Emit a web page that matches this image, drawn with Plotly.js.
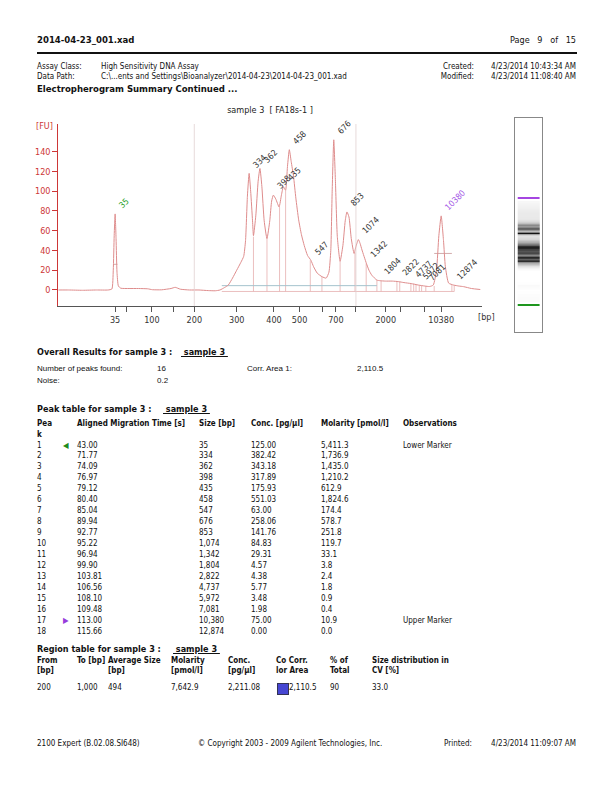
<!DOCTYPE html>
<html>
<head>
<meta charset="utf-8">
<script src="https://cdn.plot.ly/plotly-3.0.1.min.js"></script>
<style>
  html, body { margin:0; padding:0; background:#fff; }
  #page { position:relative; width:612px; height:792px; overflow:hidden; font-family:"DejaVu Sans Condensed","DejaVu Sans",sans-serif; color:#111; }
  .t { position:absolute; white-space:pre; font-size:8px; line-height:10px; }
  .b { font-weight:bold; }
  .arial { font-family:"Liberation Sans",Arial,sans-serif; }
  #chart { position:absolute; left:0; top:100px; width:612px; height:240px; }
</style>
</head>
<body>
<div id="page">
  <div id="chart"></div>
</div>
<script>
// ---------- electropherogram (x = aligned migration time [s], y = FU) ----------
const curveTime = [30.8,33,36,39,41.5,42.3,42.6,42.8,43.0,43.2,43.4,43.7,44.2,46,48,50,51,53,55,55.9,57,59,61,63,64.5,65.5,66.5,67.3,68.2,69.1,70.0,70.6,71.0,71.4,71.77,72.1,72.5,72.7,73.2,73.7,74.09,74.5,75.0,75.6,76.2,76.6,76.97,77.5,78.2,78.7,79.12,79.6,80.0,80.4,80.8,81.3,81.8,82.4,83.0,83.6,84.3,85.04,85.6,86.4,87.4,88.3,88.9,89.3,89.6,89.94,90.3,90.7,91.3,91.9,92.4,92.77,93.2,93.7,94.3,94.7,95.22,95.6,96.0,96.94,97.5,98.1,99.2,99.9,101,102.5,103.81,105,106.56,108.1,109.48,110.5,111.3,112.0,112.5,113.0,113.5,113.9,114.6,115.66,116.8,117.8,119.5,121.4];
const curveFU = [0,0,-0.3,0,0,1,20,55,77,52,18,4,1.8,1.5,1.5,1.2,0.3,0.2,1.5,2.7,0.8,0,0,-0.6,-0.8,0,2.5,5,12,20,28,34,50,95,118,100,70,55,75,110,123,105,70,52,70,90,96,92,84,96,104.5,101,125,142,130,115,93,71,56,45,35,30,23.6,17,13.5,12,18,40,100,152,110,54,29,45,70,79,74,52,37,44,51,47,40.5,27,20,15,10,9.4,9,9,8.5,7.5,6.5,5,4,3.5,5,20,55,75,50,23.6,7,5,4,3.4,1.5,0.5];

// ---------- peaks (peak table) ----------
const peakTimes = [43.00,71.77,74.09,76.97,79.12,80.40,85.04,89.94,92.77,95.22,96.94,99.90,103.81,106.56,108.10,109.48,113.00,115.66];
const peakSizes = [35,334,362,398,435,458,547,676,853,1074,1342,1804,2822,4737,5972,7081,10380,12874];
const peakConc = [125.00,382.42,343.18,317.89,175.93,551.03,63.00,258.06,141.76,84.83,29.31,4.57,4.38,5.77,3.48,1.98,75.00,0.00];
const peakMolarity = [5411.3,1736.9,1435.0,1210.2,612.9,1824.6,174.4,578.7,251.8,119.7,33.1,3.8,2.4,1.8,0.9,0.4,10.9,0.0];
const peakObservations = ["Lower Marker","","","","","","","","","","","","","","","","Upper Marker",""];
const peakHeights = [77,118,123,96,104.5,142,30,152,79,51,27,9.4,8.5,6.5,5,4,75,5];

// peak boundary marks (time, top FU)
const boundTime = [72.7,75.6,78.3,79.6,84.9,87.4,91.3,94.5,96.9,99.2,100.1,103.5,104.1,106.5,107.1,107.6,108.3,108.8,109.7,111.5,115.3,115.8];
const boundTop = [54,52,84,101,30,13.5,29,38,27,10,9.2,8.6,8.5,6.5,6.3,6,5,4.5,4,4,5,5];

// region 200 - 1000 bp (times) and its baseline
const regionTimes = [60.0, 94.7];
const regionBaseTime = [65.9, 99.2];
const regionBaseFU = [4.4, 4.4];

// half-height marks of the markers
const halfTime = [[42.6,43.5],[111.5,115.3]];
const halfFU = [26, 37];

// x-axis ticks (time positions of size ticks)
const tickTimes = [43.0,45.5,50.9,55.5,60.0,69.1,77.1,82.6,87.6,90.4,94.7,101.1,104.3,109.4,113.0];
const tickLabels = ["35","","100","","200","300","400","500","","700","","2000","","","10380"];

// gel markers
const markerTimes = [43.0, 113.0];

// ---------- region table ----------
const regionRow = ["200","1,000","494","7,642.9","2,211.08","2,110.5","90","33.0"];

const FONT = '"DejaVu Sans Condensed","DejaVu Sans",sans-serif';
const RED = 'rgb(205,55,55)';
const CURVE = 'rgb(222,140,140)';

const bx = [], by = [];
boundTime.forEach((t,i)=>{ bx.push(t,t,null); by.push(-1.5,boundTop[i],null); });
const hx = [], hy = [];
halfTime.forEach((p,i)=>{ hx.push(p[0],p[1],null); hy.push(halfFU[i],halfFU[i],null); });

const gelT = [], gelZ = [];
curveTime.forEach((t,i)=>{ if (t >= 46 && t <= 111) { gelT.push(t); gelZ.push([curveFU[i], curveFU[i]]); } });

const traces = [
  {x: bx, y: by, mode:'lines', line:{color:'rgb(230,175,175)', width:0.8}, xaxis:'x', yaxis:'y'},
  {x: [regionBaseTime[0], boundTime[boundTime.length-1]], y:[-1.5,-1.5], mode:'lines', line:{color:'rgb(230,175,175)', width:0.8}},
  {x: regionBaseTime, y: regionBaseFU, mode:'lines', line:{color:'rgb(165,195,205)', width:1}},
  {x: hx, y: hy, mode:'lines', line:{color:'rgb(200,150,150)', width:0.8}},
  {x: curveTime, y: curveFU, mode:'lines', line:{color:CURVE, width:1, shape:'spline', smoothing:0.5}},
  {type:'heatmap', x:[0,1], y:gelT, z:gelZ, xaxis:'x2', yaxis:'y2', zmin:0, zmax:140, zsmooth:'best', showscale:false,
   colorscale:[[0,'rgb(255,255,255)'],[0.12,'rgb(215,215,215)'],[0.45,'rgb(110,110,110)'],[1,'rgb(20,20,20)']]},
  {x:[-0.5,1.5], y:[markerTimes[0],markerTimes[0]], mode:'lines', line:{color:'rgb(30,150,30)', width:2}, xaxis:'x2', yaxis:'y2'},
  {x:[-0.5,1.5], y:[markerTimes[1],markerTimes[1]], mode:'lines', line:{color:'rgb(165,70,225)', width:2}, xaxis:'x2', yaxis:'y2'}
];

const annotations = peakSizes.map((s,i)=>({
  x: peakTimes[i], y: peakHeights[i], xref:'x', yref:'y', text:String(s), showarrow:false,
  textangle:-45, xanchor:'left', yanchor:'bottom', xshift:-1, yshift:1,
  font:{family:FONT, size:8.5, color: i===0 ? 'rgb(40,160,40)' : (i===16 ? 'rgb(165,90,230)' : '#333')}
}));
annotations.push({x:44/612, y:1-26/240, xref:'paper', yref:'paper', xanchor:'center', yanchor:'middle', text:'[FU]', showarrow:false, font:{family:FONT,size:9,color:RED}});
annotations.push({x:486/612, y:1-217/240, xref:'paper', yref:'paper', xanchor:'center', yanchor:'middle', text:'[bp]', showarrow:false, font:{family:FONT,size:9,color:'#333'}});

const shapes = regionTimes.map(t=>({type:'line', xref:'x', yref:'y domain', x0:t, x1:t, y0:0, y1:1, line:{color:'rgb(225,210,210)', width:0.8}}));

const layout = {
  width:612, height:240, margin:{l:0,r:0,t:0,b:0}, showlegend:false,
  paper_bgcolor:'rgba(0,0,0,0)', plot_bgcolor:'rgba(0,0,0,0)',
  title:{text:'sample 3  [ FA18s-1 ]', x:270/612, xanchor:'center', y:1-10/240, yanchor:'middle', font:{family:FONT,size:9,color:'#222'}},
  xaxis:{domain:[58.3/612, 481.7/612], range:[30.8,121.7], showgrid:false, zeroline:false, showline:true, linecolor:'#555', linewidth:1,
         ticks:'outside', ticklen:5, tickcolor:'#555', tickvals:tickTimes, ticktext:tickLabels, tickfont:{family:FONT,size:9,color:'#333'}},
  yaxis:{domain:[1-206/240, 1-24/240], range:[-16.2,168], showgrid:false, zeroline:false, showline:true, linecolor:RED, linewidth:1,
         ticks:'outside', ticklen:5, tickcolor:RED, tickvals:[0,20,40,60,80,100,120,140], tickfont:{family:FONT,size:9,color:RED}},
  xaxis2:{domain:[515/612, 542.3/612], range:[-0.75,1.75], showgrid:false, zeroline:false, showline:true, mirror:true, linecolor:'#888', showticklabels:false, ticks:'', anchor:'y2'},
  yaxis2:{domain:[1-231.7/240, 1-17.7/240], range:[25.5,165.5], showgrid:false, zeroline:false, showline:true, mirror:true, linecolor:'#888', showticklabels:false, ticks:'', anchor:'x2'},
  annotations, shapes
};
Plotly.newPlot('chart', traces, layout, {staticPlot:true, displayModeBar:false});

// ---------- text of the page ----------
const page = document.getElementById('page');
function put(text, x, y, cls, extra) {
  const d = document.createElement('div');
  d.className = 't ' + (cls || '');
  d.textContent = text;
  d.style.left = x + 'px';
  d.style.top = (y - 5) + 'px';
  if (extra) Object.assign(d.style, extra);
  page.appendChild(d);
  return d;
}
function putR(text, right, y, cls, extra) {
  const d = put(text, 0, y, cls, extra);
  d.style.left = 'auto';
  d.style.right = (612 - right) + 'px';
  return d;
}
put('2014-04-23_001.xad', 37, 40, 'b', {fontSize:'9.5px'});
putR('Page   9   of   15', 576, 40, '', {fontSize:'9px'});
const rule = document.createElement('div');
Object.assign(rule.style, {position:'absolute', left:'37px', top:'52px', width:'540px', height:'2px', background:'#111'});
page.appendChild(rule);
put('Assay Class:', 37, 67); put('High Sensitivity DNA Assay', 101, 67);
put('Data Path:', 37, 77); put('C:\\...ents and Settings\\Bioanalyzer\\2014-04-23\\2014-04-23_001.xad', 101, 77);
putR('Created:', 474, 67); putR('4/23/2014 10:43:34 AM', 576, 67);
putR('Modified:', 474, 77); putR('4/23/2014 11:08:40 AM', 576, 77);
put('Electropherogram Summary Continued ...', 37, 89, 'b', {fontSize:'9.5px'});

put('Overall Results for sample 3 :', 37, 352, 'b', {fontSize:'9px'});
put(' sample 3 ', 181, 352, 'b', {fontSize:'9px', textDecoration:'underline'});
put('Number of peaks found:', 37, 369, 'arial');
put('16', 157, 369, 'arial');
put('Corr. Area 1:', 247, 369, 'arial');
put('2,110.5', 357, 369, 'arial');
put('Noise:', 37, 381, 'arial');
put('0.2', 157, 381, 'arial');

put('Peak table for sample 3 :', 37, 409, 'b', {fontSize:'9px'});
put(' sample 3 ', 163, 409, 'b', {fontSize:'9px', textDecoration:'underline'});
const cols = [37, 77, 199, 251, 321, 403];
put('Pea', cols[0], 424, 'b'); put('k', cols[0], 435, 'b');
put('Aligned Migration Time [s]', cols[1], 424, 'b');
put('Size [bp]', cols[2], 424, 'b');
put('Conc. [pg/µl]', cols[3], 424, 'b');
put('Molarity [pmol/l]', cols[4], 424, 'b');
put('Observations', cols[5], 424, 'b');
const fmt = (v, d) => v.toLocaleString('en-US', {minimumFractionDigits:d, maximumFractionDigits:d});
peakTimes.forEach((t, i) => {
  const y = 445.5 + i * 10.95;
  put(String(i + 1), cols[0], y);
  put(fmt(t, 2), cols[1], y);
  put(fmt(peakSizes[i], 0), cols[2], y);
  put(fmt(peakConc[i], 2), cols[3], y);
  put(fmt(peakMolarity[i], 1), cols[4], y);
  if (peakObservations[i]) put(peakObservations[i], cols[5], y);
  if (i === 0) put('◀', 63, y, '', {color:'rgb(30,140,30)', fontSize:'8px'});
  if (i === 16) put('▶', 63, y, '', {color:'rgb(150,60,220)', fontSize:'8px'});
});

put('Region table for sample 3 :', 37, 649, 'b', {fontSize:'9px'});
put(' sample 3 ', 173, 649, 'b', {fontSize:'9px', textDecoration:'underline'});
const rcols = [37, 77, 108, 171, 228, 276, 330, 372];
const rh1 = ['From','To [bp]','Average Size','Molarity','Conc.','Co Corr.','% of','Size distribution in'];
const rh2 = ['[bp]','','[bp]','[pmol/l]','[pg/µl]','lor Area','Total','CV [%]'];
rcols.forEach((x, i) => { put(rh1[i], x, 661, 'b'); if (rh2[i]) put(rh2[i], x, 671, 'b'); });
regionRow.forEach((v, i) => {
  if (i === 5) {
    const sq = document.createElement('div');
    Object.assign(sq.style, {position:'absolute', left:'277px', top:'683px', width:'10px', height:'10px', background:'rgb(70,70,210)', border:'1px solid #335'});
    page.appendChild(sq);
    put(v, 289, 688);
  } else {
    put(v, rcols[i], 688);
  }
});

put('2100 Expert (B.02.08.SI648)', 37, 744);
put('© Copyright 2003 - 2009 Agilent Technologies, Inc.', 198, 744);
put('Printed:', 444, 744);
putR('4/23/2014 11:09:07 AM', 576, 744);
</script>
</body>
</html>
